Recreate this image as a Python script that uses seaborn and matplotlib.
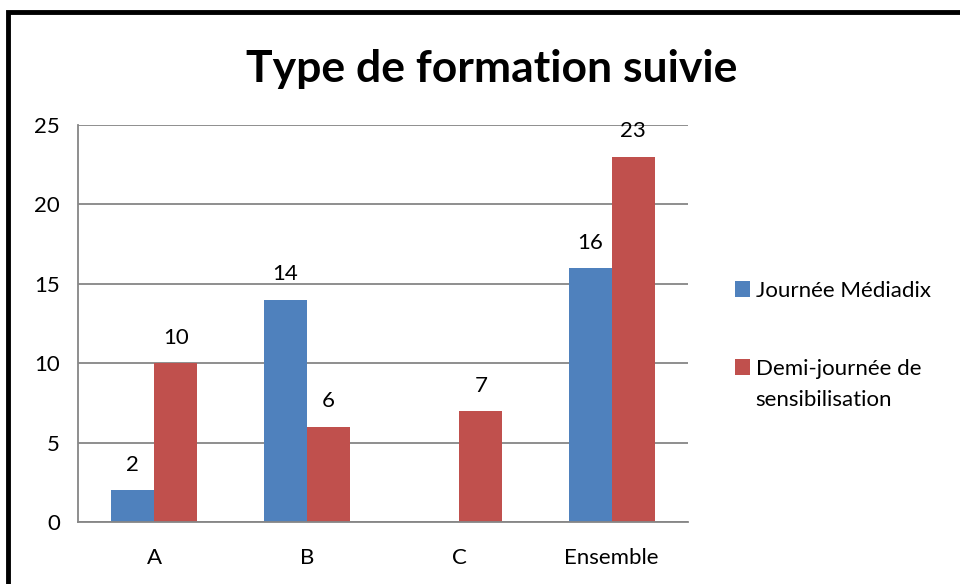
import pandas as pd
import numpy as np
import matplotlib.pyplot as plt
import seaborn as sns
from matplotlib.patches import Rectangle, Patch

# Data
categories = ['A', 'B', 'C', 'Ensemble']
journee_mediadix = [2, 14, np.nan, 16]
demi_journee = [10, 6, 7, 23]
series_names = ['Journée Médiadix', 'Demi-journée de sensibilisation']
legend_lines = ['Journée Médiadix', 'Demi-journée de']
legend_wrap = 'sensibilisation'
colors = ['#4F81BD', '#C0504D']

df = pd.DataFrame({
    'Categorie': categories * 2,
    'Valeur': journee_mediadix + demi_journee,
    'Serie': [series_names[0]] * 4 + [series_names[1]] * 4,
})

sns.set_style('white')
plt.rcParams['font.family'] = ['Lato', 'DejaVu Sans']
plt.rcParams['text.color'] = 'black'
plt.rcParams['xtick.color'] = 'black'
plt.rcParams['ytick.color'] = 'black'

fs = 16

fig = plt.figure(figsize=(9.6, 5.84), dpi=100)
ax = fig.add_axes([78 / 960, 1 - 522 / 584, 610 / 960, 397 / 584])

sns.barplot(data=df, x='Categorie', y='Valeur', hue='Serie', palette=colors,
            width=0.565, ax=ax, legend=False, saturation=1, linewidth=0)

ax.set_ylim(0, 25)
ax.set_yticks(range(0, 26, 5))
ax.set_xlim(-0.5, 3.5)
ax.yaxis.grid(True, color='#868686', linewidth=1.3)
ax.set_axisbelow(True)
ax.set_xlabel('')
ax.set_ylabel('')
for s in ['top', 'right']:
    ax.spines[s].set_visible(False)
for s in ['left', 'bottom']:
    ax.spines[s].set_color('#868686')
    ax.spines[s].set_linewidth(1.3)

# category boundary ticks on x axis
ax.set_xticks([-0.5, 0.5, 1.5, 2.5, 3.5], minor=False)
ax.set_xticklabels([])
ax.set_xticks(range(4), minor=True)
ax.set_xticklabels(categories, minor=True)
ax.tick_params(axis='x', which='major', length=6, width=1.3, color='#868686', direction='out')
ax.tick_params(axis='x', which='minor', length=0, labelsize=fs, pad=19, labelcolor='black')
ax.tick_params(axis='y', length=6, width=1.3, color='#868686', direction='out', labelsize=fs,
               pad=7, labelcolor='black')

for cont in ax.containers:
    labels = ['' if np.isnan(v) else f'{v:.0f}' for v in cont.datavalues]
    ax.bar_label(cont, labels=labels, padding=11, fontsize=fs, color='black')

# legend (square aligned with first line of the wrapped label, like Excel)
handles = [Patch(facecolor=c, edgecolor='none') for c in colors]
leg = fig.legend(handles, legend_lines, loc='upper left', bbox_to_anchor=(726 / 960, 1 - 272 / 584),
                 frameon=False, fontsize=fs, handlelength=0.68, handleheight=0.68,
                 handletextpad=0.25, labelspacing=2.6, borderaxespad=0)
fig.canvas.draw()
bb = leg.get_texts()[1].get_window_extent()
fig.text(bb.x0 / 960, (bb.y0 + bb.y1) / 2 / 100 / 5.84 - 31 / 584, legend_wrap,
         fontsize=fs, va='center', ha='left')

fig.suptitle('Type de formation suivie', fontsize=32, fontweight='bold', color='black',
             x=492 / 960, y=1 - 69 / 584, va='center')

# black frame around the chart
fig.patches.append(Rectangle((8 / 960, -0.1), 1.2, (584 - 12) / 584 + 0.1,
                             transform=fig.transFigure, fill=False, edgecolor='black', linewidth=3.5))

fig.savefig('out.png', dpi=100, facecolor='white')
